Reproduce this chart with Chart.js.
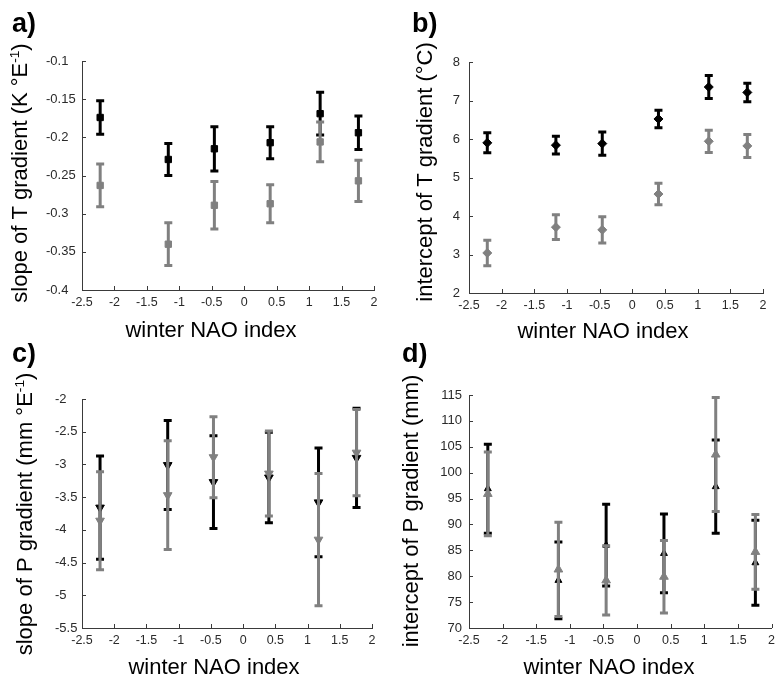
<!DOCTYPE html>
<html>
<head>
<meta charset="utf-8">
<script src="https://cdn.jsdelivr.net/npm/chart.js@4.4.1/dist/chart.umd.min.js"></script>
<style>
  html, body { margin: 0; padding: 0; background: #fff; }
  #fig { position: relative; width: 780px; height: 687px; overflow: hidden; }
  #fig canvas { position: absolute; }
</style>
</head>
<body>
<div id="fig">
  <canvas id="panel-a" width="390" height="343" style="left:0;top:0"></canvas>
  <canvas id="panel-b" width="390" height="343" style="left:390px;top:0"></canvas>
  <canvas id="panel-c" width="390" height="344" style="left:0;top:343px"></canvas>
  <canvas id="panel-d" width="390" height="344" style="left:390px;top:343px"></canvas>
</div>
<script>
const FONT = '"Liberation Sans", Arial, Helvetica, sans-serif';
const BLACK = '#000000';
const GREY = '#808080';
const AXIS_COLOR = '#3a3a3a';
const TICK_COLOR = '#2a2a2a';

// winter NAO index of the six composites
const naoIndex = [-2.22, -1.17, -0.46, 0.40, 1.17, 1.76];

// a) slope of T gradient
const slopeTBlack = [-0.174, -0.229, -0.215, -0.207, -0.169, -0.194];
const slopeTBlackErr = [0.022, 0.021, 0.029, 0.021, 0.028, 0.022];
const slopeTGrey = [-0.263, -0.340, -0.289, -0.287, -0.206, -0.257];
const slopeTGreyErr = [0.028, 0.028, 0.031, 0.025, 0.026, 0.027];

// b) intercept of T gradient
const interceptTBlack = [5.90, 5.84, 5.88, 6.52, 7.35, 7.21];
const interceptTBlackErr = [0.26, 0.23, 0.30, 0.23, 0.30, 0.24];
const interceptTGrey = [3.04, 3.71, 3.64, 4.57, 5.94, 5.82];
const interceptTGreyErr = [0.33, 0.32, 0.34, 0.28, 0.29, 0.30];

// c) slope of P gradient
const slopePBlack = [-3.66, -3.01, -3.27, -3.20, -3.58, -2.90];
const slopePBlackErr = [0.79, 0.68, 0.71, 0.69, 0.83, 0.76];
const slopePGrey = [-3.86, -3.47, -2.89, -3.14, -4.15, -2.82];
const slopePGreyErr = [0.75, 0.83, 0.62, 0.65, 1.01, 0.66];

// d) intercept of P gradient
const interceptPBlack = [96.9, 79.2, 86.0, 84.4, 97.3, 82.6];
const interceptPBlackErr = [8.6, 7.4, 7.9, 7.6, 9.0, 8.2];
const interceptPGrey = [95.9, 81.3, 79.2, 79.9, 103.5, 84.7];
const interceptPGreyErr = [8.1, 9.1, 6.7, 7.0, 11.0, 7.2];

// tick values
const xTicks = [-2.5, -2, -1.5, -1, -0.5, 0, 0.5, 1, 1.5, 2];
const slopeTTicks = [-0.4, -0.35, -0.3, -0.25, -0.2, -0.15, -0.1];
const interceptTTicks = [2, 3, 4, 5, 6, 7, 8];
const slopePTicks = [-5.5, -5, -4.5, -4, -3.5, -3, -2.5, -2];
const interceptPTicks = [70, 75, 80, 85, 90, 95, 100, 105, 110, 115];

const xTitle = 'winter NAO index';

// error bars go underneath their own markers, but above earlier series
const errorBars = {
  id: 'errorBars',
  beforeDatasetDraw(chart, args) {
    const ds = chart.data.datasets[args.index];
    if (!ds.errors) return;
    const { ctx, scales: { x, y } } = chart;
    ctx.save();
    ctx.strokeStyle = ds.pointBackgroundColor;
    ctx.lineWidth = 3;
    ctx.lineCap = 'butt';
    ds.data.forEach((pt, i) => {
      const err = ds.errors[i];
      const px = x.getPixelForValue(pt.x);
      const hi = y.getPixelForValue(pt.y + err);
      const lo = y.getPixelForValue(pt.y - err);
      ctx.beginPath();
      ctx.moveTo(px, hi);
      ctx.lineTo(px, lo);
      ctx.moveTo(px - 4, hi);
      ctx.lineTo(px + 4, hi);
      ctx.moveTo(px - 4, lo);
      ctx.lineTo(px + 4, lo);
      ctx.stroke();
    });
    ctx.restore();
  }
};

// matlab style: tick marks point into the axes
const inwardTicks = {
  id: 'inwardTicks',
  afterDraw(chart) {
    const { ctx, chartArea: a, scales: { x, y } } = chart;
    ctx.save();
    ctx.strokeStyle = AXIS_COLOR;
    ctx.lineWidth = 1;
    ctx.beginPath();
    x.ticks.forEach(t => {
      const px = Math.round(x.getPixelForValue(t.value)) + 0.5;
      ctx.moveTo(px, a.bottom);
      ctx.lineTo(px, a.bottom - 4);
    });
    y.ticks.forEach(t => {
      const py = Math.round(y.getPixelForValue(t.value)) + 0.5;
      ctx.moveTo(a.left, py);
      ctx.lineTo(a.left + 4, py);
    });
    ctx.stroke();
    ctx.restore();
  }
};

function drawRich(ctx, parts, size) {
  const supSize = size * 0.62;
  const widths = parts.map(([txt, sup]) => {
    ctx.font = `${sup ? supSize : size}px ${FONT}`;
    return ctx.measureText(txt).width;
  });
  let x = -widths.reduce((s, w) => s + w, 0) / 2;
  parts.forEach(([txt, sup], i) => {
    ctx.font = `${sup ? supSize : size}px ${FONT}`;
    ctx.fillText(txt, x, sup ? -size * 0.38 : 0);
    x += widths[i];
  });
}

// panel letter, axis titles
const panelText = {
  id: 'panelText',
  afterDraw(chart, args, opts) {
    const { ctx } = chart;
    ctx.save();
    ctx.fillStyle = '#000';
    ctx.textBaseline = 'alphabetic';
    ctx.textAlign = 'left';
    ctx.font = `bold 27px ${FONT}`;
    ctx.fillText(opts.tag, opts.tagPos[0], opts.tagPos[1]);

    ctx.save();
    ctx.translate(opts.yTitlePos[0], opts.yTitlePos[1]);
    ctx.rotate(-Math.PI / 2);
    drawRich(ctx, opts.yTitle, 22);
    ctx.restore();

    ctx.textAlign = 'center';
    ctx.font = `22px ${FONT}`;
    ctx.fillText(xTitle, opts.xTitlePos[0], opts.xTitlePos[1]);
    ctx.restore();
  }
};

function series(values, errors, color, style, rotation, radius, order) {
  return {
    data: naoIndex.map((x, i) => ({ x, y: values[i] })),
    errors,
    order,
    showLine: false,
    pointStyle: style,
    pointRotation: rotation,
    pointRadius: radius,
    pointBackgroundColor: color,
    pointBorderColor: color,
    pointBorderWidth: 1
  };
}

function makePanel(cfg) {
  const { area } = cfg;
  return new Chart(document.getElementById(cfg.id), {
    type: 'scatter',
    data: {
      datasets: [
        series(cfg.black, cfg.blackErr, BLACK, cfg.marker, cfg.rotation, cfg.radius[0], 2),
        series(cfg.grey, cfg.greyErr, GREY, cfg.marker, cfg.rotation, cfg.radius[1], 1)
      ]
    },
    options: {
      responsive: false,
      animation: false,
      events: [],
      layout: { padding: { top: area.top, right: area.right, left: area.labelLeft, bottom: 0 } },
      scales: {
        x: {
          type: 'linear',
          min: -2.5,
          max: 2,
          afterBuildTicks: s => { s.ticks = xTicks.map(v => ({ value: v })); },
          afterFit: s => { s.height = area.xHeight; },
          grid: { display: false, drawTicks: false },
          border: { display: true, color: AXIS_COLOR, width: 1 },
          ticks: {
            autoSkip: false,
            maxRotation: 0,
            minRotation: 0,
            padding: 5,
            color: TICK_COLOR,
            font: { family: FONT, size: 12.5 },
            callback: v => String(v)
          }
        },
        y: {
          type: 'linear',
          min: cfg.yTicks[0],
          max: cfg.yTicks[cfg.yTicks.length - 1],
          afterBuildTicks: s => { s.ticks = cfg.yTicks.map(v => ({ value: v })); },
          afterFit: s => { s.width = area.left - area.labelLeft; },
          grid: { display: false, drawTicks: false },
          border: { display: true, color: AXIS_COLOR, width: 1 },
          ticks: {
            autoSkip: false,
            padding: cfg.yPad,
            crossAlign: cfg.yAlign,
            color: TICK_COLOR,
            font: { family: FONT, size: 13 },
            callback: v => String(v)
          }
        }
      },
      plugins: {
        legend: { display: false },
        tooltip: { enabled: false },
        panelText: {
          tag: cfg.tag,
          tagPos: cfg.tagPos,
          yTitle: cfg.yTitle,
          yTitlePos: cfg.yTitlePos,
          xTitlePos: cfg.xTitlePos
        }
      }
    },
    plugins: [errorBars, inwardTicks, panelText]
  });
}

makePanel({
  id: 'panel-a', tag: 'a)',
  black: slopeTBlack, blackErr: slopeTBlackErr,
  grey: slopeTGrey, greyErr: slopeTGreyErr,
  yTicks: slopeTTicks,
  marker: 'rect', rotation: 0, radius: [4.5, 4.5],
  area: { left: 82, labelLeft: 46, top: 61, right: 16, xHeight: 53 },
  yPad: 6, yAlign: 'far',
  tagPos: [12, 32],
  yTitle: [['slope of T gradient (K \u00b0E', false], ['-1', true], [')', false]],
  yTitlePos: [27, 173],
  xTitlePos: [211, 337]
});

makePanel({
  id: 'panel-b', tag: 'b)',
  black: interceptTBlack, blackErr: interceptTBlackErr,
  grey: interceptTGrey, greyErr: interceptTGreyErr,
  yTicks: interceptTTicks,
  marker: 'rectRot', rotation: 0, radius: [4.5, 4.5],
  area: { left: 79, labelLeft: 0, top: 62, right: 17, xHeight: 50 },
  yPad: 9, yAlign: 'near',
  tagPos: [22, 32],
  yTitle: [['intercept of T gradient (\u00b0C)', false]],
  yTitlePos: [42, 172],
  xTitlePos: [213, 338]
});

makePanel({
  id: 'panel-c', tag: 'c)',
  black: slopePBlack, blackErr: slopePBlackErr,
  grey: slopePGrey, greyErr: slopePGreyErr,
  yTicks: slopePTicks,
  marker: 'triangle', rotation: 180, radius: [5, 5],
  area: { left: 82, labelLeft: 55, top: 56, right: 18, xHeight: 59 },
  yPad: 5, yAlign: 'far',
  tagPos: [12, 19],
  yTitle: [['slope of P gradient (mm \u00b0E', false], ['-1', true], [')', false]],
  yTitlePos: [32, 171],
  xTitlePos: [214, 331]
});

makePanel({
  id: 'panel-d', tag: 'd)',
  black: interceptPBlack, blackErr: interceptPBlackErr,
  grey: interceptPGrey, greyErr: interceptPGreyErr,
  yTicks: interceptPTicks,
  marker: 'triangle', rotation: 0, radius: [4, 5],
  area: { left: 79, labelLeft: 0, top: 52, right: 5, xHeight: 59 },
  yPad: 7, yAlign: 'near',
  tagPos: [12, 19],
  yTitle: [['intercept of P gradient (mm)', false]],
  yTitlePos: [28, 168],
  xTitlePos: [219, 331]
});
</script>
</body>
</html>
